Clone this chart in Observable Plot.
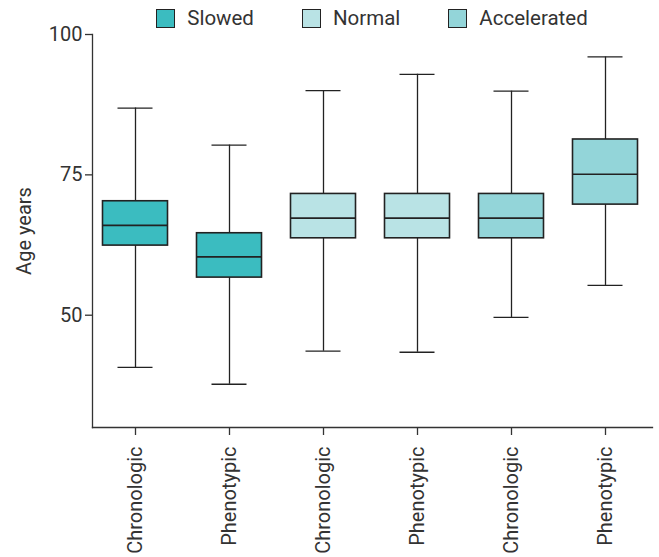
<!DOCTYPE html>
<html><head><meta charset="utf-8">
<script src="https://cdn.jsdelivr.net/npm/d3@7"></script>
<script src="https://cdn.jsdelivr.net/npm/@observablehq/plot@0.6"></script>
<style>
body{margin:0;background:#fff;font-family:Roboto,sans-serif;}
#wrap{position:relative;width:659px;height:557px;}
#legend{position:absolute;top:8px;left:92px;width:560px;display:flex;justify-content:center;gap:48px;font-size:20.5px;color:#333;line-height:20px;}
.item{display:flex;align-items:center;gap:12px;}
.sw{width:17px;height:17px;border:1.5px solid #222;}
</style></head><body>
<div id="wrap"><div id="legend"></div><div id="chart"></div></div>
<script>
const groups = ["Slowed","Slowed","Normal","Normal","Accelerated","Accelerated"];
const measures = ["Chronologic","Phenotypic","Chronologic","Phenotypic","Chronologic","Phenotypic"];
const mins    = [40.7, 37.7, 43.6, 43.4, 49.6, 55.3];
const q1s     = [62.4, 56.7, 63.7, 63.7, 63.7, 69.7];
const medians = [66.0, 60.4, 67.3, 67.3, 67.3, 75.1];
const q3s     = [70.3, 64.6, 71.6, 71.6, 71.6, 81.3];
const maxs    = [86.9, 80.3, 90.0, 92.9, 89.9, 96.0];
const legendLabels = ["Slowed","Normal","Accelerated"];
const colors = ["#3bbcc0","#b9e3e5","#93d5d9"];
const yTicks = [50, 75, 100];

const keys = groups.map((g, i) => g + "|" + measures[i]);
const data = keys.map((k, i) => ({key: k, group: groups[i], min: mins[i], q1: q1s[i], med: medians[i], q3: q3s[i], max: maxs[i]}));

const legend = document.getElementById("legend");
legendLabels.forEach((l, i) => {
  const it = document.createElement("div"); it.className = "item";
  const sw = document.createElement("div"); sw.className = "sw"; sw.style.background = colors[i];
  const tx = document.createElement("span"); tx.textContent = l;
  it.append(sw, tx); legend.append(it);
});

const chart = Plot.plot({
  width: 659, height: 557,
  marginLeft: 92, marginRight: 7, marginTop: 34, marginBottom: 130,
  style: {fontFamily: "Roboto, sans-serif", fontSize: "20px", color: "#333", background: "#fff", overflow: "visible"},
  x: {domain: keys, padding: 0, insetLeft: -4},
  y: {domain: [30, 100]},
  color: {domain: legendLabels, range: colors},
  marks: [
    Plot.frame({anchor: "left", stroke: "#333", strokeWidth: 1.3}),
    Plot.frame({anchor: "bottom", stroke: "#333", strokeWidth: 1.3}),
    Plot.axisY({ticks: yTicks, tickSize: 7, tickPadding: 3, stroke: "#333", strokeWidth: 1.3, label: "Age years", labelAnchor: "center", labelArrow: "none", labelOffset: 76}),
    Plot.axisX({tickFormat: k => k.split("|")[1], tickRotate: -90, tickSize: 8, tickPadding: 11, stroke: "#333", strokeWidth: 1.3, label: null}),
    Plot.ruleX(data, {x: "key", y1: "min", y2: "max", stroke: "#222", strokeWidth: 1.3}),
    Plot.tickY(data, {x: "key", y: "min", stroke: "#222", strokeWidth: 1.3, insetLeft: 29.5, insetRight: 29.5}),
    Plot.tickY(data, {x: "key", y: "max", stroke: "#222", strokeWidth: 1.3, insetLeft: 29.5, insetRight: 29.5}),
    Plot.barY(data, {x: "key", y1: "q1", y2: "q3", fill: "group", stroke: "#222", strokeWidth: 1.6, insetLeft: 14.5, insetRight: 14.5}),
    Plot.tickY(data, {x: "key", y: "med", stroke: "#222", strokeWidth: 1.6, insetLeft: 14.5, insetRight: 14.5})
  ]
});
document.getElementById("chart").append(chart);
</script>
</body></html>
